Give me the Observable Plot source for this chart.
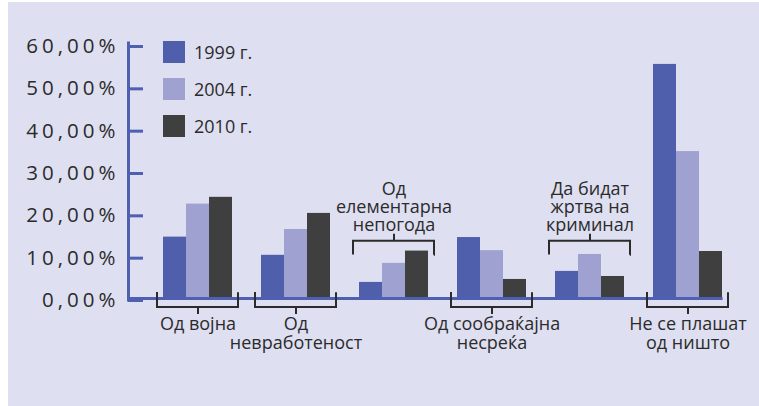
<!DOCTYPE html>
<html><head><meta charset="utf-8">
<script src="https://cdn.jsdelivr.net/npm/d3@7"></script>
<script src="https://cdn.jsdelivr.net/npm/@observablehq/plot@0.6"></script>
<style>
html,body{margin:0;padding:0;background:#fff;}
#wrap{position:relative;width:759px;height:406px;overflow:hidden;}
#bg{position:absolute;left:8px;top:2px;right:0;bottom:0;background:#dedff1;}
#chart{position:absolute;left:0;top:0;}
#legend{position:absolute;left:163px;top:41px;font-family:"Open Sans",sans-serif;font-size:18px;color:#2b2b2b;}
.item{display:flex;align-items:center;height:22px;margin-bottom:15px;white-space:nowrap;}
.sw{width:22px;height:22px;margin-right:9px;}
#chart svg [aria-label="y-axis tick label"]{letter-spacing:4px;}
</style></head>
<body><div id="wrap"><div id="bg"></div><div id="chart"></div><div id="legend"></div></div>
<script>
const categories = ["Од војна","Од невработеност","Од елементарна непогода","Од сообраќајна несреќа","Да бидат жртва на криминал","Не се плашат од ништо"];
const labelLines = ["Од војна","Од\nневработеност","Од\nелементарна\nнепогода","Од сообраќајна\nнесреќа","Да бидат\nжртва на\nкриминал","Не се плашат\nод ништо"];
const labelAbove = [false,false,true,false,true,false];
const years = ["1999 г.","2004 г.","2010 г."];
const v1999 = [14.5,10.2,3.8,14.4,6.4,55.3];
const v2004 = [22.3,16.3,8.3,11.3,10.4,34.7];
const v2010 = [23.9,20.1,11.2,4.5,5.2,11.1];
const yTicks = [0,10,20,30,40,50,60];

const colors = ["#4f5fac","#9fa1d0","#3f3f3f"];
const axisBlue = "#4f60b0";
const ink = "#2b2b2b";
const series = [v1999, v2004, v2010];
const data = categories.flatMap((c,i) => years.map((y,j) => ({cat:c, year:y, value:series[j][i]})));
const cats = categories.map((c,i) => ({cat:c, label:labelLines[i], above:labelAbove[i]}));
const below = cats.filter(d => !d.above), above = cats.filter(d => d.above);
const fmt = d => d.toFixed(2).replace(".", ",") + "%";

const W = 759, H = 406, marginLeft = 157, marginRight = 30;
const fxPad = 0.173;
const facetW = (W - marginLeft - marginRight) * (1 - fxPad) / (categories.length - fxPad);
const bracketLevel = 13.5;
const bH = 15, aH = 14;

const chart = Plot.plot({
  width: W, height: H, marginLeft, marginRight, marginTop: 44, marginBottom: 108,
  style: {background: "transparent", fontFamily: "'Open Sans', sans-serif", color: ink, overflow: "visible"},
  fx: {domain: categories, paddingInner: fxPad, paddingOuter: 0, axis: null, label: null},
  x: {domain: years, paddingInner: 0, paddingOuter: 0.233, axis: null},
  y: {domain: [0, 60], axis: null},
  color: {domain: years, range: colors},
  marks: [
    Plot.barY(data, {fx: "cat", x: "year", y: "value", fill: "year", insetLeft: 0, insetRight: 0}),
    Plot.ruleY([0], {stroke: axisBlue, strokeWidth: 3, insetLeft: -29, insetRight: 5.45}),
    Plot.frame({anchor: "left", facetAnchor: "left", dx: -29, stroke: axisBlue, strokeWidth: 3, insetTop: -1.5, insetBottom: -1.5}),
    Plot.axisY({ticks: yTicks, tickFormat: fmt, tickSize: -15, tickPadding: 24, dx: -29, dy: 2,
      stroke: axisBlue, strokeWidth: 3, fontSize: 20.5, fill: ink, label: null}),
    // brackets below
    Plot.rect(below, {fx: "cat", y1: () => 0, y2: () => 0, insetTop: -6, insetBottom: -9,
      fill: "none", stroke: ink, strokeWidth: 2, strokeDasharray: `0,${facetW},${2*bH + facetW}`}),
    Plot.ruleX(below, {fx: "cat", x: () => years[1], y1: () => 0, y2: () => 0, insetTop: 9, insetBottom: -16, stroke: ink, strokeWidth: 2}),
    Plot.text(below, {fx: "cat", text: "label", y: () => 0, dy: 18, lineAnchor: "top", lineHeight: 1.05, fontSize: 18, fill: ink}),
    // brackets above
    Plot.rect(above, {fx: "cat", y1: () => bracketLevel, y2: () => bracketLevel, insetTop: 0, insetBottom: -aH,
      fill: "none", stroke: ink, strokeWidth: 2, strokeDasharray: `${facetW + aH},${facetW},${aH}`}),
    Plot.ruleX(above, {fx: "cat", x: () => years[1], y1: () => bracketLevel, y2: () => bracketLevel, insetTop: -7, insetBottom: 0, stroke: ink, strokeWidth: 2}),
    Plot.text(above, {fx: "cat", text: "label", y: () => bracketLevel, dy: -10, lineAnchor: "bottom", lineHeight: 1.0, fontSize: 18, fill: ink})
  ]
});
document.getElementById("chart").appendChild(chart);

const legend = document.getElementById("legend");
years.forEach((y, j) => {
  const item = document.createElement("div");
  item.className = "item";
  const sw = document.createElement("div");
  sw.className = "sw";
  sw.style.background = colors[j];
  const t = document.createElement("span");
  t.textContent = y;
  item.appendChild(sw); item.appendChild(t);
  legend.appendChild(item);
});
</script>
</body></html>
